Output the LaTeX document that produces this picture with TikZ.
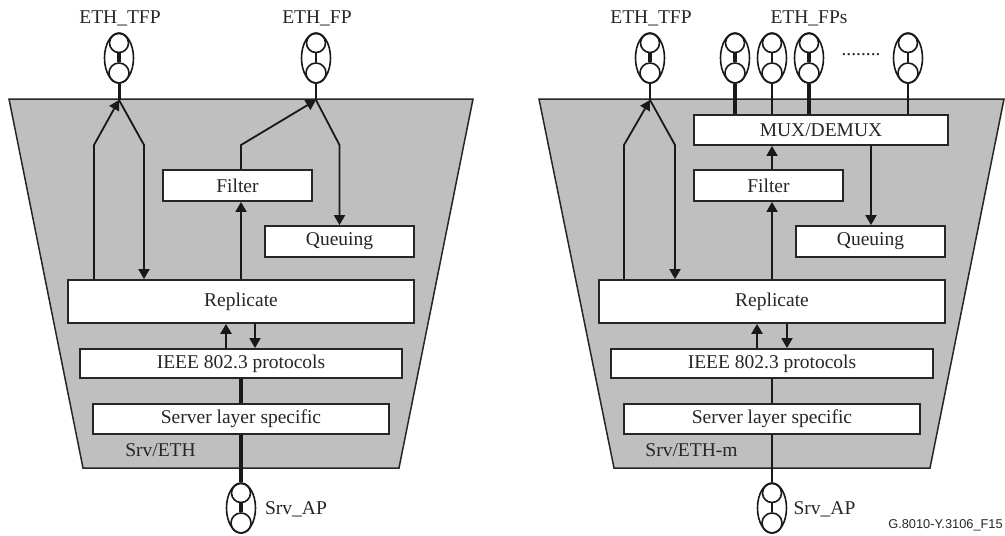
\documentclass[tikz,border=0pt]{standalone}
\usepackage{fontspec}
\setmainfont{Liberation Serif}
\usepackage{tikz}
\usetikzlibrary{arrows.meta}
\usetikzlibrary{shapes.geometric}

\newfontfamily\codefont{Liberation Sans}
\newcommand{\portsym}[4]{%
  \node[port] (#1) at (#2,#3) {};
  \node[port ring, minimum size=19pt] (#1-a) at (#2,#3-15) {};
  \node[port ring, minimum size=20pt] (#1-b) at (#2,#3+15) {};
  \draw[#4] (#1-a) -- (#1-b);
}

\begin{document}
\begin{tikzpicture}[
            x=1pt,y=-1pt,
            every node/.style={font=\fontsize{19.5}{22}\selectfont,text=black!85},
            panel/.style={fill=black!25,draw=black!85,line width=1.5pt},
            box/.style={rectangle,fill=white,draw=black!85,line width=1.8pt,inner sep=0pt},
            port/.style={ellipse,draw=black!90,line width=1.6pt,minimum width=29pt,minimum height=50pt,inner sep=0pt},
            port ring/.style={circle,draw=black!90,line width=1.6pt,inner sep=0pt},
            stem/.style={draw=black!90,line width=2.2pt},
            fat stem/.style={draw=black!90,line width=3.6pt},
            flow/.style={draw=black!90,line width=1.8pt,-{Triangle[length=10pt,width=11pt]}},
            fat flow/.style={flow,line width=2.8pt},
            ]

            \useasboundingbox (0,0) rectangle (1005,536);

            % left panel
            \draw[panel] (9,99) -- (473,99) -- (399,468) -- (83,468) -- cycle;
            \node[box, minimum width=149pt, minimum height=31pt] (l-filter) at (237.5,185.5) {Filter};
            \node[box, minimum width=149pt, minimum height=31pt] (l-queuing) at (339.5,241.5) {Queuing};
            \node[box, minimum width=346pt, minimum height=43pt] (l-replicate) at (241,301.5) {Replicate};
            \node[box, minimum width=322pt, minimum height=29pt] (l-ieee) at (241,363.5) {IEEE 802.3 protocols};
            \node[box, minimum width=296pt, minimum height=30pt] (l-server) at (241,419) {Server layer specific};
            \node (l-name) at (160.5,450) {Srv/ETH};

            \portsym{l-tfp}{119}{58}{fat stem}
            \portsym{l-fp}{316}{58}{stem}
            \portsym{l-ap}{241}{508}{fat stem}
            \node (l-tfp-label) at (120,18) {ETH\_TFP};
            \node (l-fp-label) at (317,18) {ETH\_FP};
            \node (l-ap-label) at (296,509) {Srv\_AP};

            \coordinate (l-tfp-top) at (119,100);
            \coordinate (l-fp-top) at (316,100);
            \coordinate (l-up) at (94,145);
            \coordinate (l-down) at (144,145);
            \coordinate (l-bend) at (241,145);
            \coordinate (l-out) at (339.5,145);
            \coordinate (l-rise) at (226,349);
            \coordinate (l-drop) at (255,323);

            \draw[fat stem, line width=3pt] (l-tfp) -- (l-tfp-top);
            \draw[stem] (l-fp) -- (l-fp-top);
            \draw[flow] (l-replicate.north -| l-up) -- (l-up) -- (l-tfp-top);
            \draw[flow] (l-tfp-top) -- (l-down) -- (l-replicate.north -| l-down);
            \draw[flow] (l-replicate.north) -- (l-filter.south -| l-replicate.north);
            \draw[flow] (l-filter.north -| l-bend) -- (l-bend) -- (l-fp-top);
            \draw[flow] (l-fp-top) -- (l-out) -- (l-queuing.north);
            \draw[fat flow] (l-rise) -- (l-replicate.south -| l-rise);
            \draw[flow] (l-drop) -- (l-ieee.north -| l-drop);
            \draw[fat stem] (l-ieee) -- (l-server);
            \draw[fat stem] (l-server) -- (l-ap);

            % right panel
            \draw[panel] (539,99) -- (1004,99) -- (930,468) -- (614,468) -- cycle;
            \node[box, minimum width=254pt, minimum height=30pt] (r-mux) at (821,130) {MUX/DEMUX};
            \node[box, minimum width=149pt, minimum height=31pt] (r-filter) at (768.5,185.5) {Filter};
            \node[box, minimum width=149pt, minimum height=31pt] (r-queuing) at (870.5,241.5) {Queuing};
            \node[box, minimum width=346pt, minimum height=43pt] (r-replicate) at (772,301.5) {Replicate};
            \node[box, minimum width=322pt, minimum height=29pt] (r-ieee) at (772,363.5) {IEEE 802.3 protocols};
            \node[box, minimum width=296pt, minimum height=30pt] (r-server) at (772,419) {Server layer specific};
            \node (r-name) at (691.5,450) {Srv/ETH-m};

            \portsym{r-tfp}{650}{58}{fat stem}
            \portsym{r-fp1}{735}{58}{fat stem}
            \portsym{r-fp2}{772}{58}{stem}
            \portsym{r-fp3}{809}{58}{fat stem}
            \portsym{r-fp4}{908}{58}{stem}
            \portsym{r-ap}{772}{508}{stem}
            \node (r-tfp-label) at (651,18) {ETH\_TFP};
            \node (r-fp-label) at (809,18) {ETH\_FPs};
            \node (r-dots) at (861,55) {........};
            \node (r-ap-label) at (824.5,509) {Srv\_AP};
            \node[font=\codefont\fontsize{12.8}{15}\selectfont] (r-code) at (945.5,525) {G.8010-Y.3106\_F15};

            \coordinate (r-tfp-top) at (650,100);
            \coordinate (r-up) at (624,145);
            \coordinate (r-down) at (675,145);
            \coordinate (r-out) at (871,145);
            \coordinate (r-rise) at (757,349);
            \coordinate (r-drop) at (787,323);

            \draw[stem] (r-tfp) -- (r-tfp-top);
            \draw[fat stem] (r-fp1) -- (r-fp1 |- r-mux.north);
            \draw[stem] (r-fp2) -- (r-fp2 |- r-mux.north);
            \draw[fat stem] (r-fp3) -- (r-fp3 |- r-mux.north);
            \draw[stem] (r-fp4) -- (r-fp4 |- r-mux.north);
            \draw[flow] (r-replicate.north -| r-up) -- (r-up) -- (r-tfp-top);
            \draw[flow] (r-tfp-top) -- (r-down) -- (r-replicate.north -| r-down);
            \draw[flow] (r-replicate.north) -- (r-filter.south -| r-replicate.north);
            \draw[flow] (r-filter.north -| r-replicate.north) -- (r-mux.south -| r-replicate.north);
            \draw[flow] (r-out) -- (r-queuing.north -| r-out);
            \draw[fat flow] (r-rise) -- (r-replicate.south -| r-rise);
            \draw[flow] (r-drop) -- (r-ieee.north -| r-drop);
            \draw[stem] (r-ieee) -- (r-server);
            \draw[stem] (r-server) -- (r-ap);
        \end{tikzpicture}
\end{document}
